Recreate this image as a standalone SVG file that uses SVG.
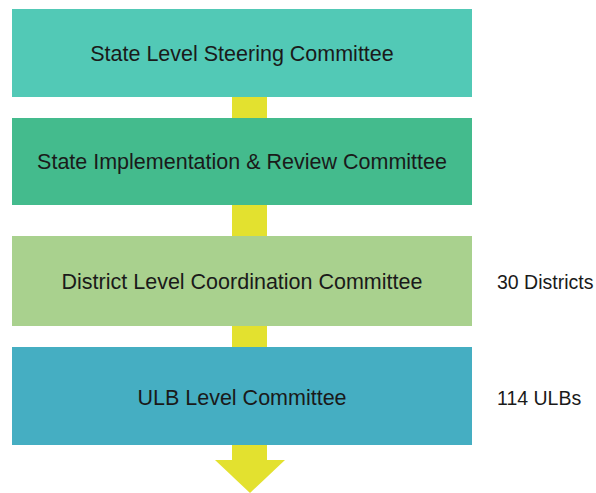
<svg xmlns="http://www.w3.org/2000/svg" width="596" height="493" viewBox="0 0 596 493">
<style>
.lbl{font-family:"Liberation Sans",Arial,sans-serif;font-size:21.5px;fill:#1a1a1a;text-anchor:middle}
.side{font-family:"Liberation Sans",Arial,sans-serif;font-size:19.5px;fill:#1a1a1a}
.flow{fill:#E3E12F}
</style>
<rect width="596" height="493" fill="#ffffff"/>
<g id="connectors">
<rect class="flow" x="232" y="96" width="35" height="366"/>
<polygon class="flow" points="215,460 285,460 250,493"/>
</g>
<g id="state-steering">
<rect x="12" y="9" width="460" height="88" fill="#52C9B6"/>
<text class="lbl" x="242" y="61">State Level Steering Committee</text>
</g>
<g id="state-implementation">
<rect x="12" y="118" width="460" height="87" fill="#44BB8D"/>
<text class="lbl" x="242" y="169">State Implementation &amp; Review Committee</text>
</g>
<g id="district">
<rect x="12" y="236" width="460" height="90" fill="#A9D18E"/>
<text class="lbl" x="242" y="289">District Level Coordination Committee</text>
<text class="side" x="497" y="289">30 Districts</text>
</g>
<g id="ulb">
<rect x="12" y="347" width="460" height="98" fill="#45AEC2"/>
<text class="lbl" x="242" y="405">ULB Level Committee</text>
<text class="side" x="497" y="405">114 ULBs</text>
</g>
</svg>
